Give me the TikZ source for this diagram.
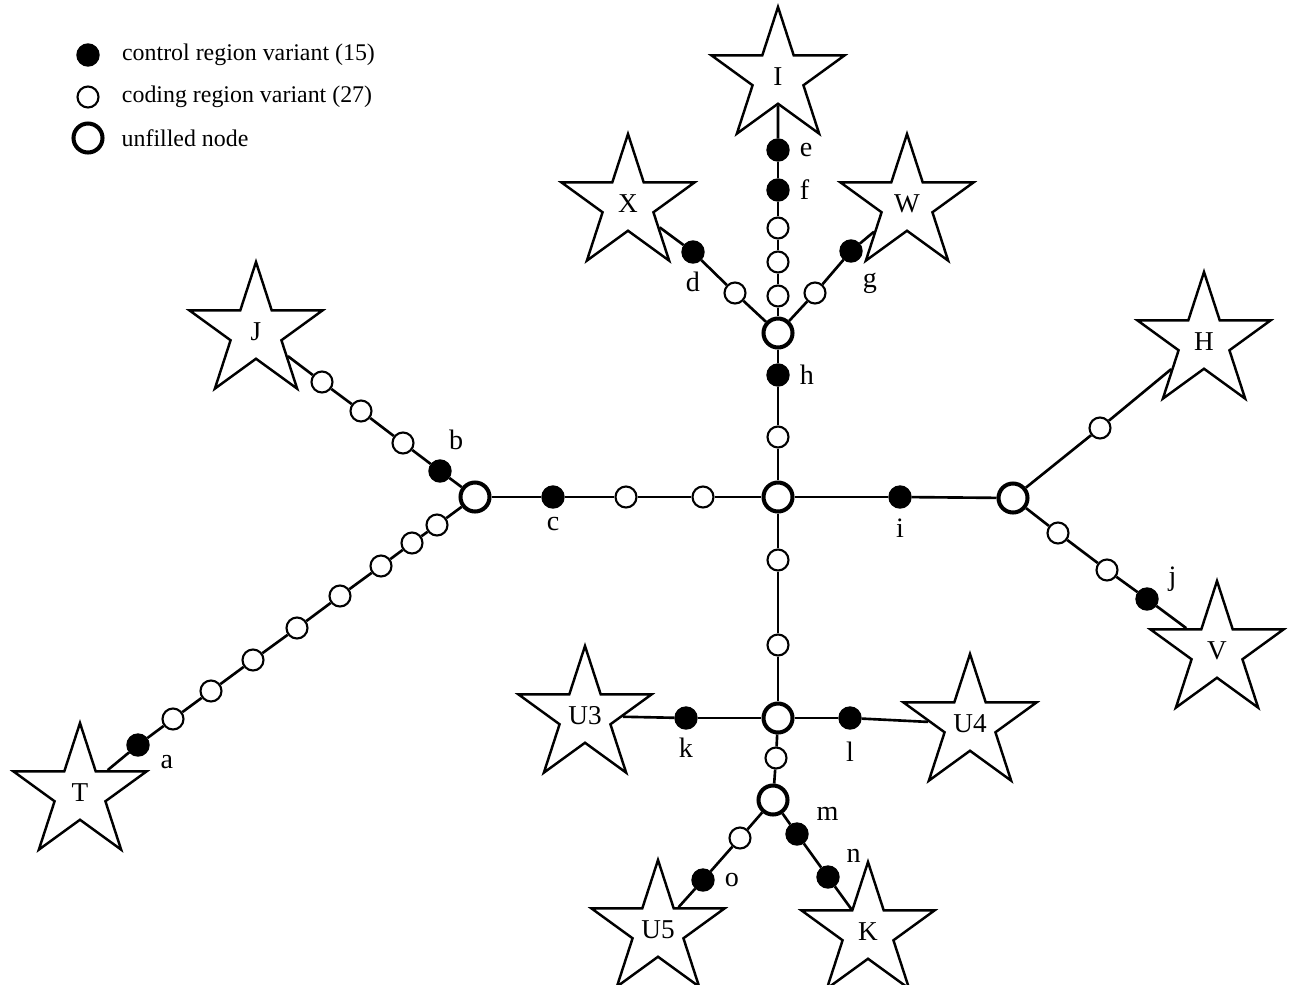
\documentclass[tikz,border=0pt]{standalone}
\usepackage{fontspec}
\setmainfont{Liberation Serif}
\usepackage{tikz}
\usetikzlibrary{shapes.geometric}
\tikzstyle{cdot} = [draw,fill=black, circle, inner sep=0, minimum size=0.44cm, line width=0.8pt]
\tikzstyle{odot} = [draw,fill=white, circle, inner sep=0, minimum size=0.42cm, line width=1.2pt]
\tikzstyle{hub} = [draw,fill=white, circle, inner sep=0, minimum size=0.58cm, line width=2.3pt]
\tikzstyle{taxon} = [draw,fill=white, star, star points=5, star point ratio=2.618, inner sep=0, minimum size=2.8cm, line width=1.4pt, font=\fontsize{15.5}{18}\selectfont]
\tikzstyle{keytext} = [label distance=10pt, font=\fontsize{13.6}{16}\selectfont]

\begin{document}
\begin{tikzpicture}[-,x=0.02cm,y=-0.02cm,line width=1.5pt,
  every label/.append style={inner sep=2pt, font=\fontsize{16}{18}\selectfont}]
\useasboundingbox (0,0) rectangle (1290,984);

% key
\node[cdot,label={[keytext]right:control region variant (15)}] (keyc) at (88,55) {};
\node[odot,label={[keytext]right:coding region variant (27)}] (keyo) at (88,97) {};
\node[hub,label={[keytext,label distance=7pt]right:unfilled node}] (keyh) at (88,138) {};

% unfilled nodes
\node[hub] (hub0) at (778,497) {};
\node[hub] (hubL) at (475,497) {};
\node[hub] (hubR) at (1013,498) {};
\node[hub] (hubU) at (778,333) {};
\node[hub] (hubD) at (778,718) {};
\node[hub] (hubK) at (773,800) {};

% stars
\node[taxon] (I) at (778,77) {I};
\node[taxon] (X) at (628,204) {X};
\node[taxon] (W) at (907,204) {W};
\node[taxon] (J) at (256,332) {J};
\node[taxon] (T) at (80,793) {T};
\node[taxon] (H) at (1204,342) {H};
\node[taxon] (V) at (1217,651) {V};
\node[taxon] (U3) at (585,716) {U3};
\node[taxon] (U4) at (970,724) {U4};
\node[taxon] (U5) at (658,930) {U5};
\node[taxon] (K) at (868,932) {K};

% top
\node[cdot,label={[label distance=3pt]right:e}] (e) at (778,150) {};
\node[cdot,label={[label distance=3pt]right:f}] (f) at (778,190) {};
\node[odot] (t1) at (778,228) {};
\node[odot] (t2) at (778,262) {};
\node[odot] (t3) at (778,296) {};
\node[cdot,label={[label distance=3pt]right:h}] (h) at (778,375) {};
\node[odot] (t4) at (778,437) {};
\node[odot] (x1) at (735,293) {};
\node[cdot,label={[label distance=2pt]below:d}] (d) at (693,252) {};
\node[odot] (w1) at (815,293) {};
\node[cdot,label={[label distance=4pt]-68:g}] (g) at (851,251) {};

% left
\node[cdot,label={[label distance=3pt]75:b}] (b) at (440,471) {};
\node[odot] (j1) at (403,443) {};
\node[odot] (j2) at (361,411) {};
\node[odot] (j3) at (322,382) {};
\node[odot] (s1) at (437,525) {};
\node[odot] (s2) at (412,543) {};
\node[odot] (s3) at (381,566) {};
\node[odot] (s4) at (340,596) {};
\node[odot] (s5) at (297,628) {};
\node[odot] (s6) at (253,660) {};
\node[odot] (s7) at (211,691) {};
\node[odot] (s8) at (173,719) {};
\node[cdot,label={[label distance=4pt]-18:a}] (a) at (138,745) {};
\node[cdot,label={[label distance=2pt]below:c}] (c) at (553,497) {};
\node[odot] (c1) at (626,497) {};
\node[odot] (c2) at (703,497) {};

% right
\node[cdot,label={[label distance=3pt]below:i}] (i) at (900,497) {};
\node[odot] (r1) at (1100,428) {};
\node[odot] (r2) at (1058,533) {};
\node[odot] (r3) at (1107,570) {};
\node[cdot,label={[label distance=3pt]8:j}] (j) at (1147,599) {};

% bottom
\node[odot] (d1) at (778,560) {};
\node[odot] (d2) at (778,645) {};
\node[cdot,label={[label distance=2pt]below:k}] (k) at (686,718) {};
\node[cdot,label={[label distance=4pt]below:l}] (l) at (850,718) {};
\node[odot] (d3) at (776,758) {};
\node[cdot,label={[label distance=3pt]30:m}] (m) at (797,834) {};
\node[cdot,label={[label distance=3pt]35:n}] (n) at (828,877) {};
\node[odot] (u1) at (740,838) {};
\node[cdot,label={[label distance=3pt]right:o}] (o) at (703,880) {};

\path
(I) edge (e)
(e) edge (f)
(f) edge (t1)
(t1) edge (t2)
(t2) edge (t3)
(t3) edge (hubU)
(X) edge (d)
(d) edge (x1)
(x1) edge (hubU)
(W) edge (g)
(g) edge (w1)
(w1) edge (hubU)
(hubU) edge (h)
(h) edge (t4)
(t4) edge (hub0)
(J) edge (j3)
(j3) edge (j2)
(j2) edge (j1)
(j1) edge (b)
(b) edge (hubL)
(T) edge (a)
(a) edge (s8)
(s8) edge (s7)
(s7) edge (s6)
(s6) edge (s5)
(s5) edge (s4)
(s4) edge (s3)
(s3) edge (s2)
(s2) edge (s1)
(s1) edge (hubL)
(hubL) edge (c)
(c) edge (c1)
(c1) edge (c2)
(c2) edge (hub0)
(hub0) edge (i)
(i) edge (hubR)
(hubR) edge (r1)
(r1) edge (H)
(hubR) edge (r2)
(r2) edge (r3)
(r3) edge (j)
(j) edge (V)
(hub0) edge (d1)
(d1) edge (d2)
(d2) edge (hubD)
(U3) edge (k)
(k) edge (hubD)
(hubD) edge (l)
(l) edge (U4)
(hubD) edge (d3)
(d3) edge (hubK)
(hubK) edge (m)
(m) edge (n)
(n) edge (K)
(hubK) edge (u1)
(u1) edge (o)
(o) edge (U5);

\end{tikzpicture}
\end{document}
